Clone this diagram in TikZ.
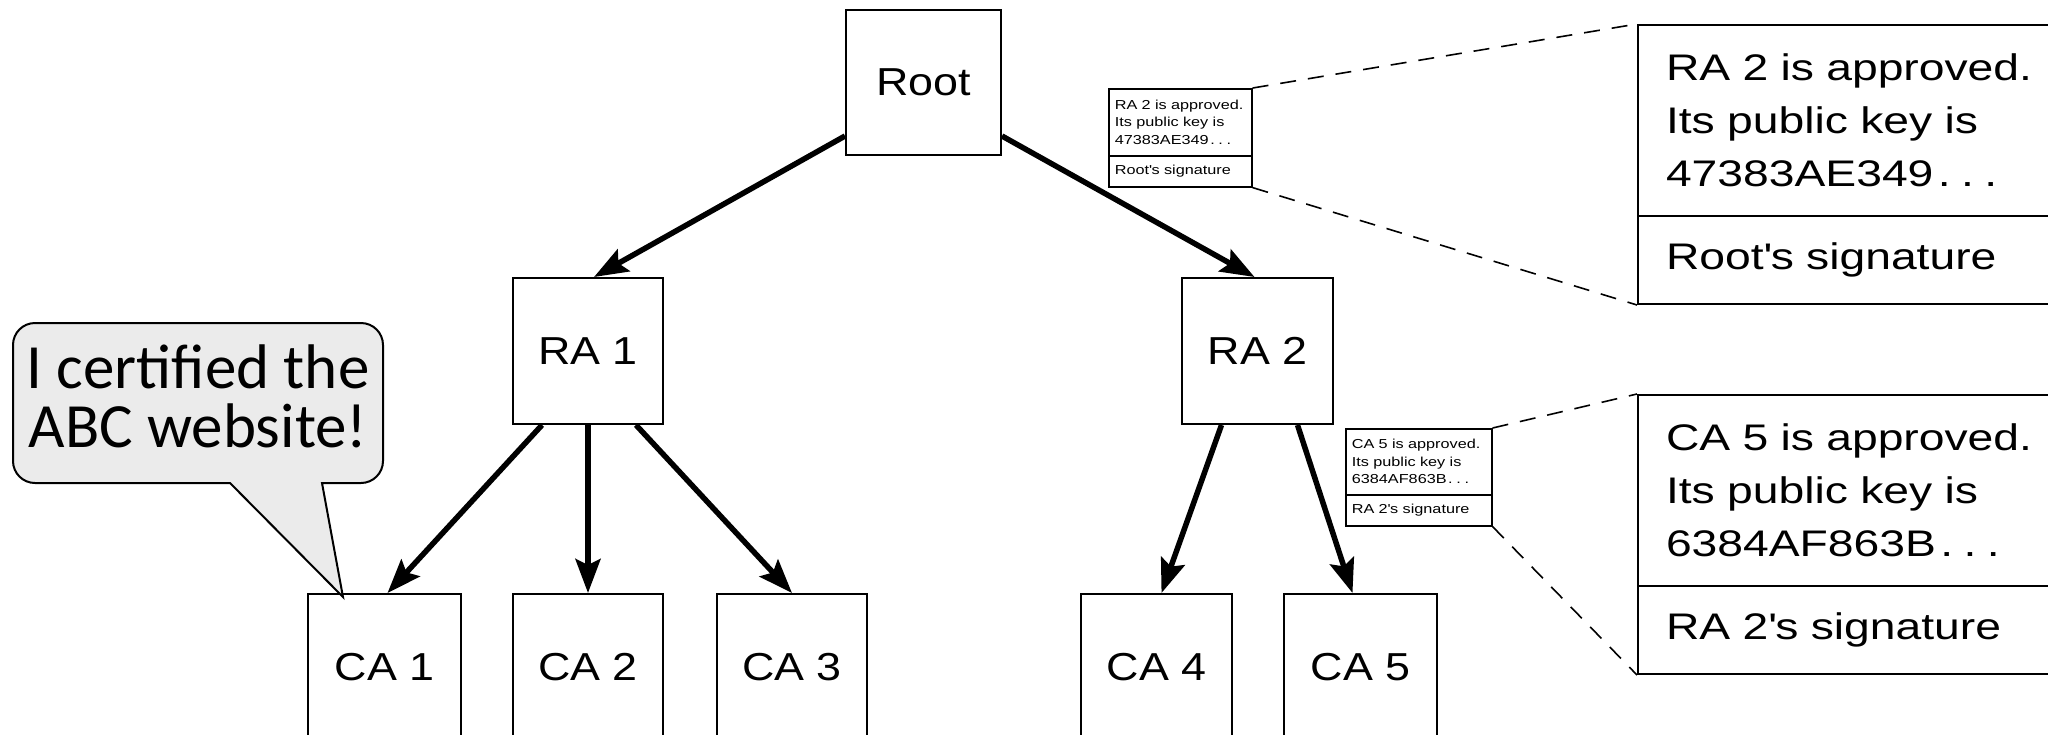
\documentclass[tikz,border=0pt]{standalone}
\usepackage{fontspec}
\usetikzlibrary{arrows.meta,calc}
\newfontfamily\treefont[FakeStretch=1.15]{Liberation Sans}
\newfontfamily\certfont[FakeStretch=1.25]{Liberation Sans}
\newfontfamily\calfont{Carlito}
\definecolor{bubfill}{HTML}{EBEBEB}
\newcommand{\dotsep}{\kern.12em.\kern.28em.\kern.28em.}
\begin{document}
\begin{tikzpicture}[x=1pt,y=-1pt,
  treebox/.style={draw, line width=2pt, inner sep=0pt, font=\treefont\fontsize{39}{47}\selectfont},
  arr/.style={line width=5.5pt, -{Stealth[length=34pt,width=25pt,inset=6pt]}},
  smallpart/.style={draw, line width=1.6pt, anchor=north west, inner xsep=6pt, inner ysep=2pt, align=left, font=\certfont\fontsize{13}{17.5}\selectfont},
  bigpart/.style={draw, line width=2pt, anchor=north west, text width=480pt, inner xsep=28pt, inner ysep=2pt, align=left, font=\certfont\fontsize{37}{53}\selectfont},
  zoomline/.style={dash pattern=on 16pt off 12pt, line width=1.6pt},
  bubble/.style={draw, line width=2pt, fill=bubfill}]
\useasboundingbox (0,0) rectangle (2048,734);

% tree
\node[treebox, minimum width=155pt, minimum height=145pt] (root) at (923.5,82.5) {Root};
\node[treebox, minimum width=150pt, minimum height=146pt] (ra1) at (588,351) {RA 1};
\node[treebox, minimum width=151pt, minimum height=146pt] (ra2) at (1257.5,351) {RA 2};
\node[treebox, minimum width=153pt, minimum height=146pt] (ca1) at (384.5,667) {CA 1};
\node[treebox, minimum width=150pt, minimum height=146pt] (ca2) at (588,667) {CA 2};
\node[treebox, minimum width=150pt, minimum height=146pt] (ca3) at (792,667) {CA 3};
\node[treebox, minimum width=151pt, minimum height=146pt] (ca4) at (1156.5,667) {CA 4};
\node[treebox, minimum width=153pt, minimum height=146pt] (ca5) at (1360.5,667) {CA 5};

\draw[arr] ($(root.south west)+(0,-20)$) -- ($(ra1.north)+(6,0)$);
\draw[arr] ($(root.south east)+(0,-20)$) -- ($(ra2.north)+(-3,0)$);
\draw[arr] ($(ra1.south)+(-46,0)$) -- ($(ca1.north)+(3,0)$);
\draw[arr] (ra1.south) -- (ca2.north);
\draw[arr] ($(ra1.south)+(48,0)$) -- (ca3.north);
\draw[arr] ($(ra2.south)+(-36,0)$) -- ($(ca4.north)+(5,0)$);
\draw[arr] ($(ra2.south)+(40,0)$) -- ($(ca5.north)+(-8,0)$);

% small certificates
\node[smallpart, text width=131pt, minimum height=67pt] (c1a) at (1108,88) {RA 2 is approved.\\Its public key is\\47383AE349\dotsep};
\node[smallpart, text width=131pt, minimum height=31pt] (c1b) at (1108,155) {Root\textquotesingle s signature};
\node[smallpart, text width=134pt, minimum height=66pt] (c2a) at (1345,428) {CA 5 is approved.\\Its public key is\\6384AF863B\dotsep};
\node[smallpart, text width=134pt, minimum height=31pt] (c2b) at (1345,494) {RA 2\textquotesingle s signature};

% enlarged certificates
\node[bigpart, minimum height=191pt] (b1a) at (1637,24) {RA 2 is approved.\\Its public key is\\47383AE349\dotsep};
\node[bigpart, minimum height=88pt] (b1b) at (1637,215) {Root\textquotesingle s signature};
\node[bigpart, minimum height=191pt] (b2a) at (1637,394) {CA 5 is approved.\\Its public key is\\6384AF863B\dotsep};
\node[bigpart, minimum height=88pt] (b2b) at (1637,585) {RA 2\textquotesingle s signature};

\draw[zoomline] (c1a.north east) -- (b1a.north west);
\draw[zoomline] (c1b.south east) -- (b1b.south west);
\draw[zoomline] (c2a.north east) -- (b2a.north west);
\draw[zoomline] (c2b.south east) -- (b2b.south west);

% speech bubble
\draw[bubble] (343,597) -- (230,483) [rounded corners=22pt] -- (13,483) -- (13,323) -- (383,323) -- (383,483) [sharp corners] -- (322,483) -- cycle;
\node[font=\calfont\fontsize{63}{59}\selectfont, align=center, inner sep=0pt] (bub) at (198,396) {I certified the\\ABC website!};
\end{tikzpicture}
\end{document}
